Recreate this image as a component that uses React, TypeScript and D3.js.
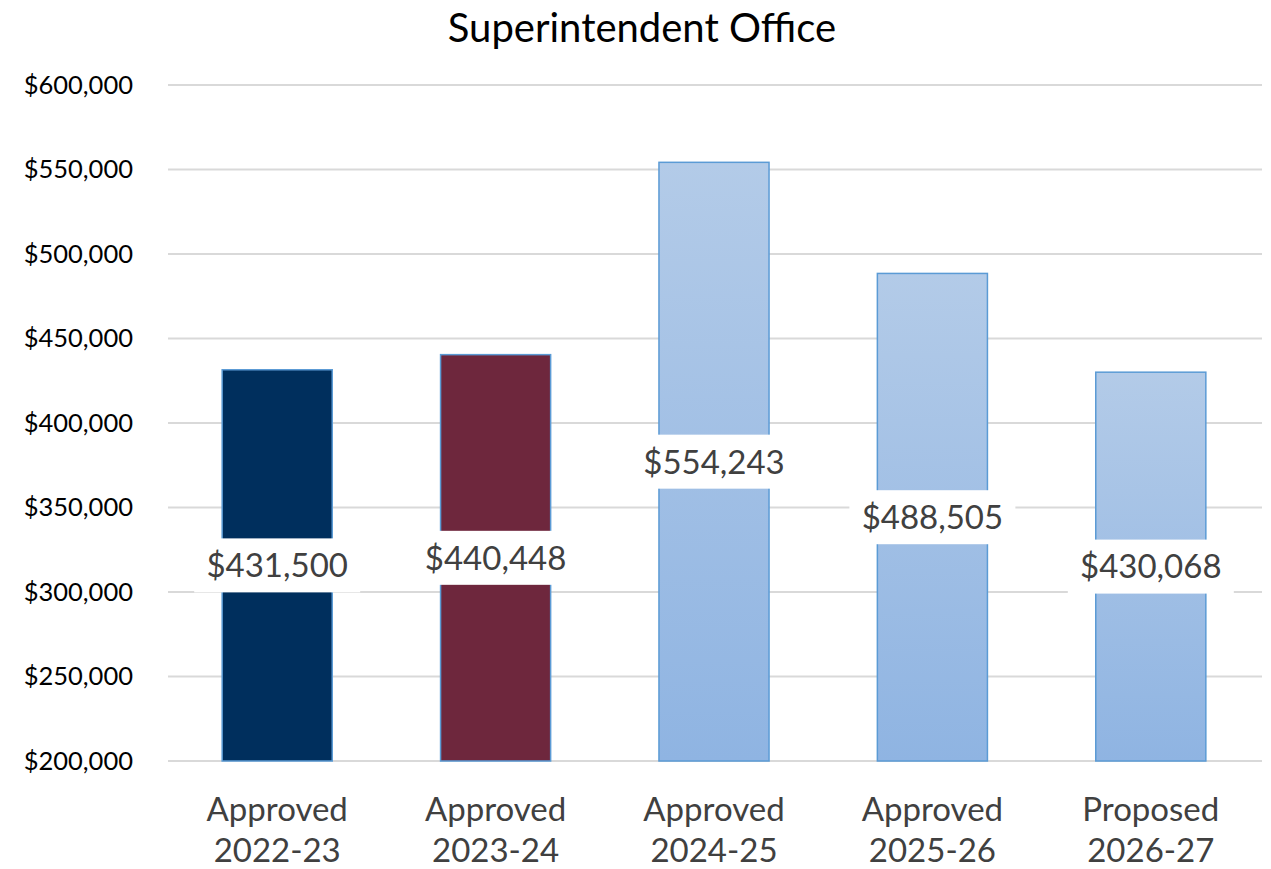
import React from "react";
import * as d3 from "d3";

const title = "Superintendent Office";
const categoryLine1 = ["Approved", "Approved", "Approved", "Approved", "Proposed"];
const categoryLine2 = ["2022-23", "2023-24", "2024-25", "2025-26", "2026-27"];
const values = [431500, 440448, 554243, 488505, 430068];
const tickValues = [200000, 250000, 300000, 350000, 400000, 450000, 500000, 550000, 600000];
const barFills = ["#002F5D", "#6E273D", "url(#blueGrad)", "url(#blueGrad)", "url(#blueGrad)"];

const W = 1271;
const H = 869;
const FONT = "Lato, 'Open Sans', sans-serif";

export default function App() {
  const left = 168;
  const right = 1260;
  const top = 85;
  const bottom = 761;

  const x = d3.scaleBand<number>().domain(d3.range(values.length)).range([left, right]).paddingInner(0.496).paddingOuter(0.248);
  const y = d3.scaleLinear().domain([200000, 600000]).range([bottom, top]);
  const fmt = (v: number) => "$" + d3.format(",")(v);

  return (
    <svg width={W} height={H} style={{ position: "absolute", left: 0, top: 0, background: "#fff" }}>
      <defs>
        <linearGradient id="blueGrad" x1="0" y1="0" x2="0" y2="1">
          <stop offset="0" stopColor="#B3CBE8" />
          <stop offset="1" stopColor="#8FB4E2" />
        </linearGradient>
      </defs>
      <rect width={W} height={H} fill="#fff" />
      <text x={642} y={42} textAnchor="middle" fontFamily={FONT} fontSize={40} fill="#000">
        {title}
      </text>
      {tickValues.map((t) => (
        <g key={t}>
          <line x1={left} x2={1262} y1={y(t)} y2={y(t)} stroke="#D9D9D9" strokeWidth={2} />
          <text x={133} y={y(t)} dy="0.35em" textAnchor="end" fontFamily={FONT} fontSize={25.5} fill="#000">
            {fmt(t)}
          </text>
        </g>
      ))}
      {values.map((v, i) => (
        <rect
          key={"b" + i}
          x={x(i)!}
          y={y(v)}
          width={x.bandwidth()}
          height={bottom - y(v)}
          fill={barFills[i]}
          stroke="#5B9BD5"
          strokeWidth={1.5}
        />
      ))}
      {values.map((v, i) => {
        const cx = x(i)! + x.bandwidth() / 2;
        const cy = (y(v) + bottom) / 2;
        return (
          <g key={"l" + i}>
            <rect x={cx - 83} y={cy - 27} width={166} height={54} fill="#fff" />
            <text x={cx} y={cy} dy="0.36em" textAnchor="middle" fontFamily={FONT} fontSize={33} fill="#404040">
              {fmt(v)}
            </text>
          </g>
        );
      })}
      {values.map((_, i) => {
        const cx = x(i)! + x.bandwidth() / 2;
        return (
          <g key={"c" + i}>
            <text x={cx} y={821} textAnchor="middle" fontFamily={FONT} fontSize={33} fill="#404040">
              {categoryLine1[i]}
            </text>
            <text x={cx} y={862} textAnchor="middle" fontFamily={FONT} fontSize={33} fill="#404040">
              {categoryLine2[i]}
            </text>
          </g>
        );
      })}
    </svg>
  );
}
